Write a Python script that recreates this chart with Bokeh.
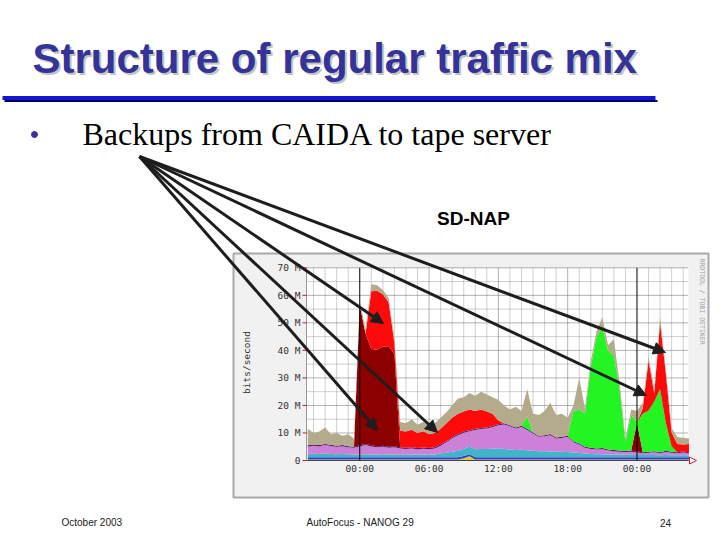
import numpy as np
from bokeh.plotting import figure
from bokeh.models import Range1d, ColumnDataSource, Arrow, NormalHead
from bokeh.core.properties import value
from bokeh.embed import file_html
from bokeh.resources import INLINE

# ---------------- data (Mbit/s, half-hour samples, hours relative to first midnight) ----------------
hours = np.arange(-4.5, 28.51, 0.5)

yellow = [0.4] * 27 + [0.8, 1.5] + [0.4] * 38
blue = [0.8] * 67
teal = [1.2, 1.3, 1.2, 1.3, 1.2, 1.1, 1.2, 1.1, 1.0,
        1.0, 1.1, 1.0, 1.0, 1.1, 1.0, 1.0, 0.9, 0.9, 1.0, 0.9, 1.0, 0.9, 1.0,
        1.3, 1.6, 2.0, 2.3, 2.6, 2.8, 2.9, 3.0, 3.0, 3.1, 3.2, 3.0, 2.8, 2.6, 2.7, 2.5,
        2.3, 2.2, 2.2, 2.1, 2.0, 2.0, 1.9, 1.7, 1.5, 1.3,
        1.2, 1.1, 1.1, 1.0, 1.0, 0.9, 0.9, 0.9, 0.8, 0.8, 0.8, 0.8, 0.7, 0.8, 0.7, 0.7, 0.7, 0.7]
orchid = [2.7, 2.9, 2.8, 3.1, 2.9, 2.7, 2.8, 2.5, 2.4,
          2.9, 3.3, 2.9, 2.6, 2.7, 2.4, 2.6, 2.3, 2.1, 2.2, 2.0, 2.1, 2.0, 2.2,
          2.9, 3.8, 4.9, 5.7, 5.9, 5.5, 7.0, 7.2, 7.4, 7.8, 8.4, 8.9, 8.4, 7.8, 8.3, 7.4,
          6.3, 5.2, 5.4, 5.9, 4.8, 5.0, 5.5, 3.7, 3.1, 2.1,
          1.8, 1.7, 1.8, 1.4, 1.2, 1.1, 1.0, 1.1, 0.9, 0.6, 0.8, 1.0, 0.7, 1.1, 0.9, 0.7, 1.0, 0.7]
purple = [0.4] * 67
darkred = [0] * 9 + [51, 40, 35, 35, 36, 36.5, 33.5] + [0] * 41 + [10.5] + [0] * 9
green = [0] * 38 + [4.5] + [0] * 7 + [11, 12.3, 12, 29.4, 40.6, 44, 36, 34.2, 22.4, 3, 12.9,
                                      0, 14, 15, 18, 23, 10, 2, 0, 0, 0]
red = [0] * 11 + [21, 21.5, 19, 16, 4] + \
      [6.0, 5.9, 6.4, 5.5, 5.9, 5.0, 5.2, 5.7, 6.5, 7.0, 7.4, 7.3, 7.5, 6.5, 6.7, 5.8, 4.5, 1.3] + \
      [0] * 24 + [2, 18, 3, 24, 18, 5, 3, 2.5, 3]
tan = [6.0, 4.2, 4.9, 6.0, 3.8, 4.6, 3.4, 4.3, 3.0,
       1.5, 1.5, 2.5, 2.0, 1.5, 1.5, 1.5,
       3.2, 3.0, 3.8, 3.0, 3.4, 3.0, 3.5, 4.0, 4.0, 4.5, 5.5, 5.2, 6.0, 5.5, 6.5, 6.2, 6.0, 7.5,
       6.5, 5.7, 7.5, 5.4, 10, 6.8, 7.5, 8.8, 11.4, 8.1, 8.4, 6.5,
       2, 11.5, 2, 2, 2, 3.5, 2, 6, 2, 1.5, 2, 4.2, 2, 1.5, 1.5, 2, 1.5, 1.5, 2.5, 2.5, 2]

layer_names = ["yellow", "blue", "teal", "orchid", "purple", "darkred", "green", "red", "tan"]
layer_colors = ["#d8c840", "#3040c8", "#40b4c8", "#cc80d8", "#551a66",
                "#8c0000", "#22f522", "#ff0a0a", "#b3ab8c"]

ytick_vals = [0, 10, 20, 30, 40, 50, 60, 70]
ytick_labels = ["0", "10 M", "20 M", "30 M", "40 M", "50 M", "60 M", "70 M"]
xtick_vals = [0, 6, 12, 18, 24]
xtick_labels = ["00:00", "06:00", "12:00", "18:00", "00:00"]
midnights = [0, 24]

title = "Structure of regular traffic mix"
bullet = "Backups from CAIDA to tape server"
chart_title = "SD-NAP"
footer_left = "October 2003"
footer_mid = "AutoFocus -  NANOG 29"
footer_right = "24"

# ---------------- layout constants (page pixels) ----------------
W, H = 712, 532
PX_L, PX_R = 306.0, 688.0        # plot area left/right
PY_0, PY_TOP = 460.0, 267.3      # y pixel of 0 and of 70 M
T_L, T_R = -4.61, 28.46          # time at plot edges
M_TOP = 70.0

k_t = (T_R - T_L) / (PX_R - PX_L)
k_m = M_TOP / (PY_0 - PY_TOP)

p = figure(width=W, height=H, x_range=Range1d(0, W), y_range=Range1d(H, 0),
           min_border=0, toolbar_location=None, output_backend="svg",
           x_axis_location=None, y_axis_location=None, outline_line_color=None,
           background_fill_color="white", border_fill_color="white")
p.grid.visible = False
p.extra_x_ranges = {"t": Range1d(T_L - PX_L * k_t, T_R + (W - PX_R) * k_t)}
p.extra_y_ranges = {"m": Range1d(0 - (H - PY_0) * k_m, M_TOP + PY_TOP * k_m)}
CH = dict(x_range_name="t", y_range_name="m")

# ---------------- chart frame ----------------
p.quad(left=[233], right=[708], top=[253], bottom=[497], fill_color="#f1f1f1",
       line_color="#a9a9a9", line_width=2)
p.quad(left=[T_L], right=[T_R], bottom=[0], top=[M_TOP], fill_color="white",
       line_color=None, **CH)

# grid
minor_h = [v for v in range(5, 70, 5) if v % 10]
major_h = [v for v in range(10, 71, 10)]
minor_v = [h for h in range(-4, 29) if h % 6]
major_v = [6, 12, 18]
p.segment(x0=[T_L] * len(minor_h), x1=[T_R] * len(minor_h), y0=minor_h, y1=minor_h,
          line_color="#a0a0a0", line_dash="1 1", line_width=1, **CH)
p.segment(x0=minor_v, x1=minor_v, y0=[0] * len(minor_v), y1=[M_TOP] * len(minor_v),
          line_color="#a0a0a0", line_dash="1 1", line_width=1, **CH)
p.segment(x0=[T_L] * len(major_h), x1=[T_R] * len(major_h), y0=major_h, y1=major_h,
          line_color="#666666", line_dash="1 1", line_width=1, **CH)
p.segment(x0=major_v, x1=major_v, y0=[0] * 3, y1=[M_TOP] * 3,
          line_color="#666666", line_dash="1 1", line_width=1, **CH)

# stacked areas
src = ColumnDataSource(dict(t=hours, yellow=yellow, blue=blue, teal=teal, orchid=orchid,
                            purple=purple, darkred=darkred, green=green, red=red, tan=tan))
p.varea_stack(stackers=layer_names, x="t", color=layer_colors, source=src, **CH)

# midnight rules
p.segment(x0=midnights, x1=midnights, y0=[0, 0], y1=[M_TOP, M_TOP],
          line_color="black", line_width=1, **CH)

# axes
p.segment(x0=[T_L], x1=[T_R], y0=[0], y1=[0], line_color="#444444", line_width=1, **CH)
p.segment(x0=[T_L], x1=[T_L], y0=[0], y1=[M_TOP], line_color="#999999", line_width=1, **CH)
p.segment(x0=[T_L - 4 * k_t] * len(ytick_vals), x1=[T_L] * len(ytick_vals),
          y0=ytick_vals, y1=ytick_vals, line_color="#c02020", line_width=1, **CH)
p.add_layout(Arrow(x_start=T_R, y_start=0, x_end=T_R + 8 * k_t, y_end=0,
                   line_color="#e02020", line_width=1,
                   end=NormalHead(size=7, fill_color="white", line_color="#e02020", line_width=1),
                   **CH))

mono = value("DejaVu Sans Mono")
p.text(x=[T_L] * len(ytick_vals), y=ytick_vals, text=ytick_labels, x_offset=-6,
       text_align="right", text_baseline="middle", text_font=mono,
       text_font_size="9.5px", text_color="#333333", **CH)
p.text(x=xtick_vals, y=[0] * len(xtick_vals), text=xtick_labels, y_offset=2,
       text_align="center", text_baseline="top", text_font=mono,
       text_font_size="9.5px", text_color="#333333", **CH)

# axis title and watermark (page coords)
p.text(x=[246], y=[362], text=["bits/second"], angle=np.pi / 2, text_align="center",
       text_baseline="middle", text_font=mono, text_font_size="9.5px", text_color="#333333")
p.text(x=[701], y=[258], text=["RRDTOOL / TOBI OETIKER"], angle=-np.pi / 2,
       text_align="left", text_baseline="middle", text_font=mono, text_font_size="6.5px",
       text_color="#a0a0a0")

# ---------------- slide decorations ----------------
sans = value("Liberation Sans")
p.text(x=[34], y=[60], text=[title], text_font=sans, text_font_style="bold",
       text_font_size="42px", text_color="#c4c4c4", text_baseline="middle")
p.text(x=[32], y=[58], text=[title], text_font=sans, text_font_style="bold",
       text_font_size="42px", text_color="#333399", text_baseline="middle")
p.segment(x0=[4], x1=[657], y0=[100.5], y1=[100.5], line_color="#000066", line_width=2)
p.segment(x0=[2], x1=[655], y0=[97.5], y1=[97.5], line_color="#1515d0", line_width=4)

p.scatter(x=[34], y=[134], size=6, fill_color="#333399", line_color="#333399")
p.text(x=[82], y=[133], text=[bullet], text_font=value("Liberation Serif"),
       text_font_size="32px", text_color="black", text_baseline="middle")

p.text(x=[473], y=[218], text=[chart_title], text_font=sans, text_font_style="bold",
       text_font_size="19px", text_color="black", text_align="center", text_baseline="middle")

for txt, xx, al in [(footer_left, 61, "left"), (footer_mid, 361, "center"), (footer_right, 665, "center")]:
    p.text(x=[xx], y=[522], text=[txt], text_font=sans, text_font_size="10px",
           text_color="#222222", text_align=al, text_baseline="middle")

# pointer arrows (page coords)
origin = (139, 156)
targets = [(383, 323), (377, 430), (437, 432), (665, 352), (646, 395)]
for (xe, ye) in targets:
    p.add_layout(Arrow(x_start=origin[0], y_start=origin[1], x_end=xe, y_end=ye,
                       line_color="#1e1e1e", line_width=3,
                       end=NormalHead(size=12, fill_color="#1e1e1e", line_color="#1e1e1e",
                                      line_width=1)))

open("out.html", "w").write(file_html(p, INLINE))
